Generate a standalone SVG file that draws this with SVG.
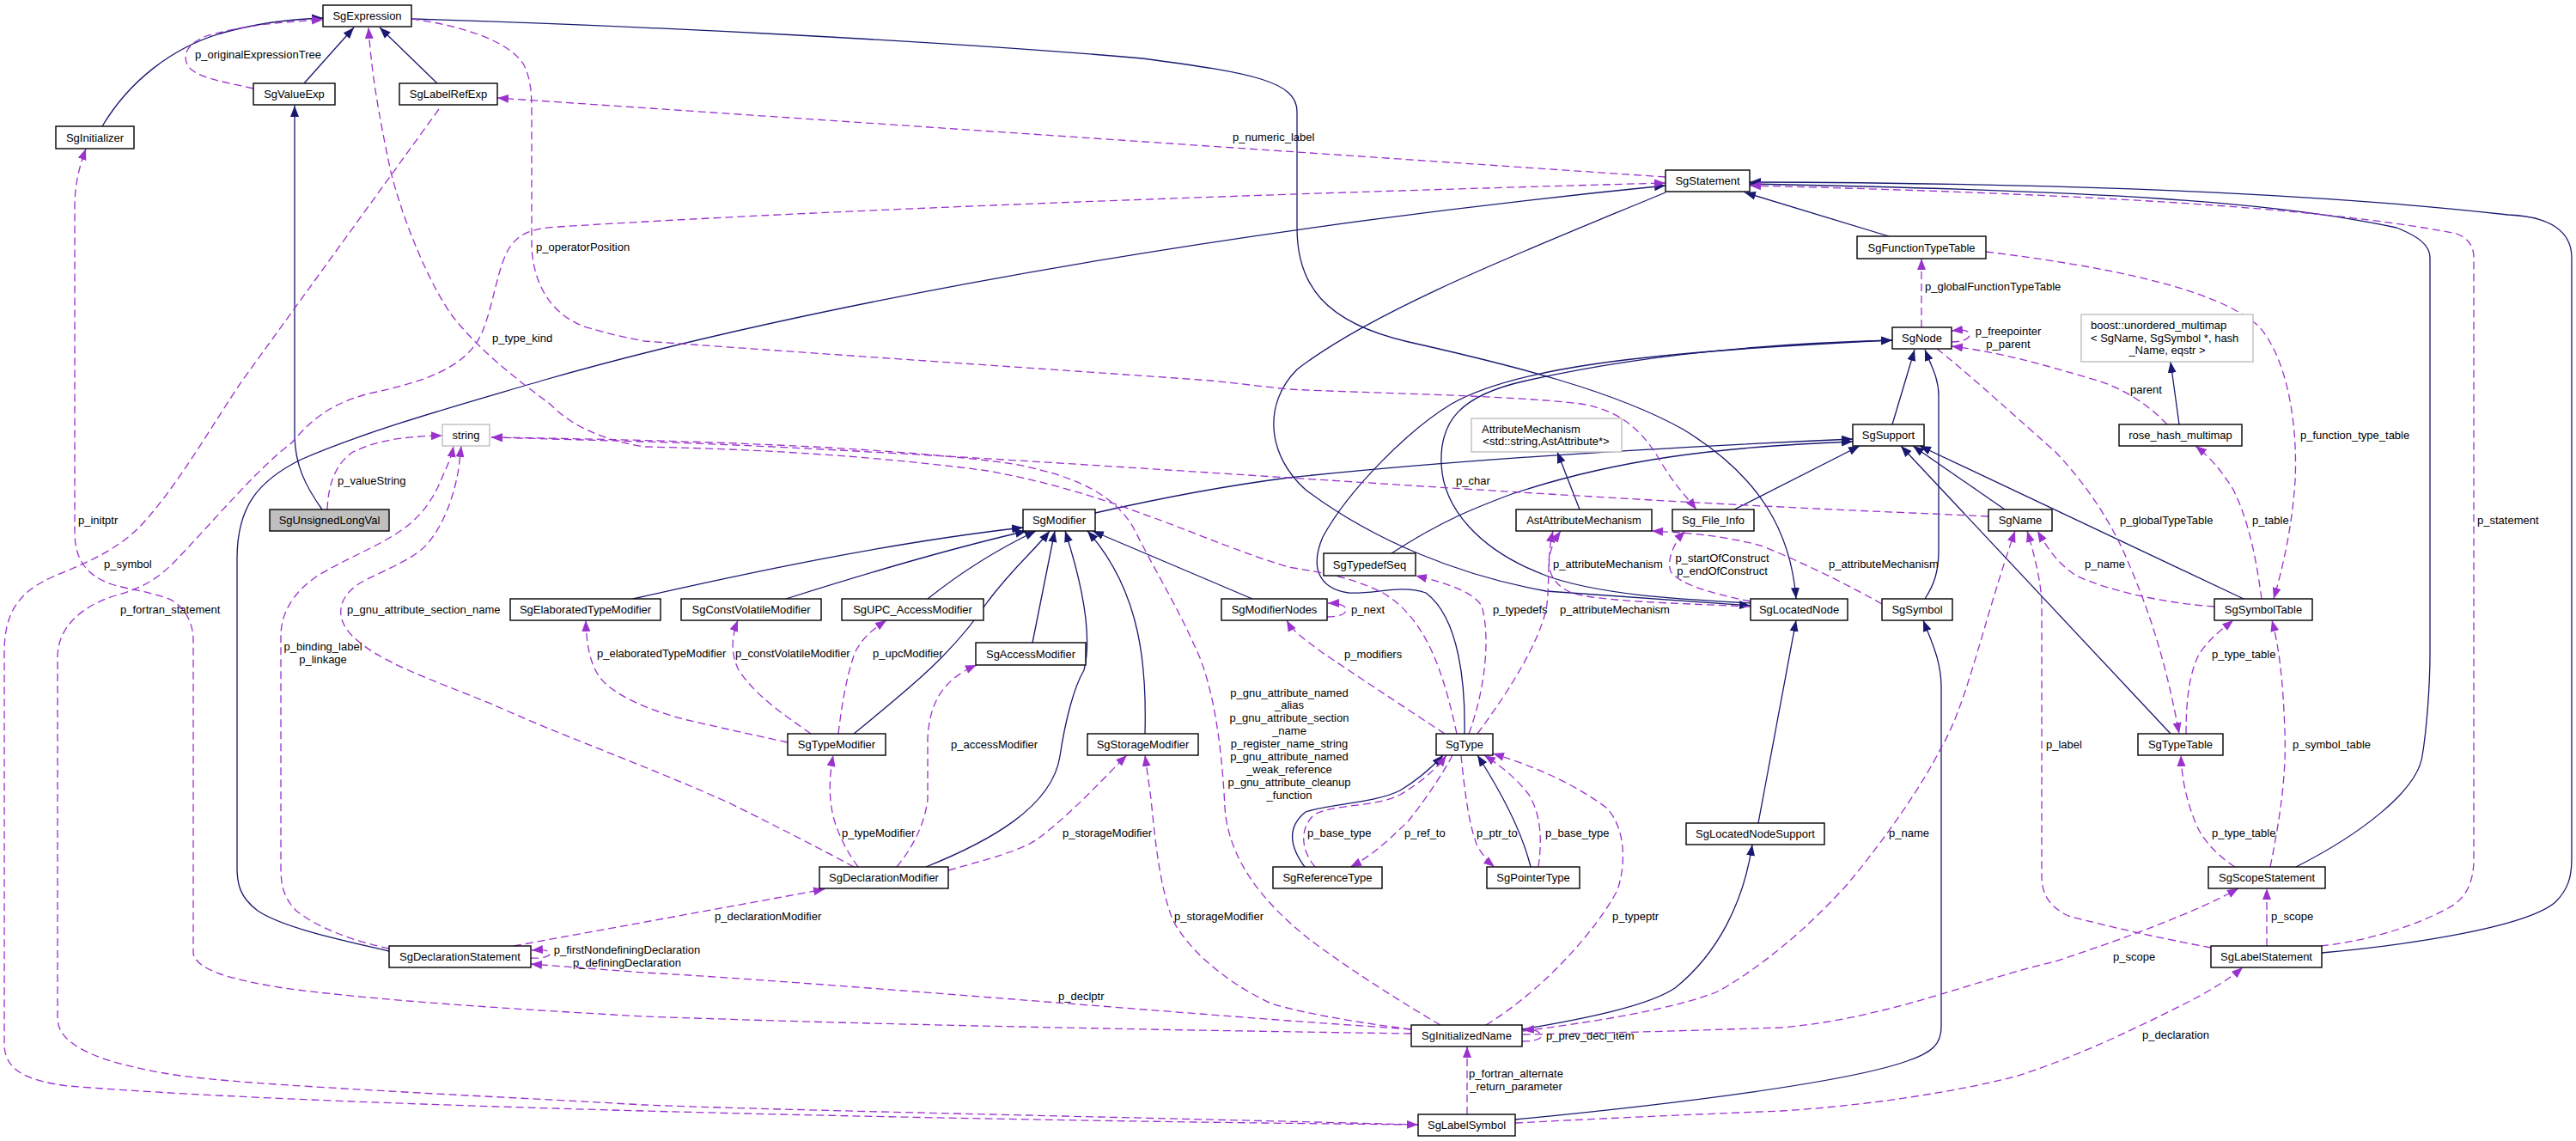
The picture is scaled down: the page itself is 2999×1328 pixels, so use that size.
<svg xmlns="http://www.w3.org/2000/svg" width="2999" height="1328" viewBox="0 0 2999 1328">
<style>
text{font-family:"Liberation Sans",Arial,Helvetica,sans-serif;font-size:13px;fill:#000}
.n rect{fill:#fff;stroke:#000;stroke-width:1.4}
.n text{text-anchor:middle}
.g rect{stroke:#bfbfbf}
.cur rect{fill:#bfbfbf}
.e{fill:none;stroke-width:1.3}
.i{stroke:#191970;marker-end:url(#ab)}
.u{stroke:#9a32cd;stroke-dasharray:9,5;marker-end:url(#ap)}
.c{text-anchor:middle}
</style>
<defs>
<marker id="ab" markerUnits="userSpaceOnUse" markerWidth="14" markerHeight="11" refX="13" refY="5.5" orient="auto"><path d="M0,0.5 L13,5.5 L0,10.5 z" fill="#191970" stroke="none"/></marker>
<marker id="ap" markerUnits="userSpaceOnUse" markerWidth="14" markerHeight="11" refX="13" refY="5.5" orient="auto"><path d="M0,0.5 L13,5.5 L0,10.5 z" fill="#9a32cd" stroke="none"/></marker>
</defs>
<rect width="2999" height="1328" fill="#fff"/>
<g id="edges">
<path class="e i" d="M354,97 L412,32"/>
<path class="e i" d="M509,97 L442,32"/>
<path class="e i" d="M119,147 C150,95 200,55 260,38 C300,27 340,22 376,21"/>
<path class="e i" d="M375,593 C355,565 343,540 343,505 L343,123"/>
<path class="e i" d="M479,22 C750,30 1100,48 1330,68 C1460,85 1510,95 1510,130 L1510,265 C1510,330 1540,375 1640,398 C1760,425 1880,455 1960,500 C2050,555 2085,620 2091,697"/>
<path class="e i" d="M1939,224 C1780,290 1600,360 1510,430 C1470,470 1475,530 1520,570 C1600,630 1700,670 1800,688 L2038,705"/>
<path class="e i" d="M453,1107 C400,1095 330,1080 300,1060 C280,1045 276,1030 276,1010 L276,650 C276,590 300,560 350,535 C430,500 540,470 631,443 C850,380 1300,280 1939,216"/>
<path class="e i" d="M2199,275 L2031,224"/>
<path class="e i" d="M2673,1009 C2750,970 2814,920 2820,880 C2825,850 2829,800 2829,760 L2829,300 C2829,285 2815,275 2790,265 C2650,235 2450,222 2037,214"/>
<path class="e i" d="M2703,1109 C2800,1100 2940,1080 2975,1050 C2990,1035 2994,1020 2994,1000 L2994,300 C2994,270 2970,252 2920,250 C2700,225 2400,213 2037,212"/>
<path class="e i" d="M1705,854 C1706,800 1700,720 1660,690 C1630,680 1600,692 1570,690 C1535,685 1525,660 1540,625 C1570,570 1640,500 1690,470 C1760,430 1900,410 2203,396"/>
<path class="e i" d="M2038,702 C1950,697 1860,692 1800,670 C1720,640 1680,590 1678,540 C1676,490 1700,460 1777,443 C1900,415 2050,400 2203,396"/>
<path class="e i" d="M2203,494 L2229,407"/>
<path class="e i" d="M2241,697 C2252,680 2257,665 2257,640 L2257,460 C2257,440 2248,425 2241,407"/>
<path class="e i" d="M1275,597 C1350,580 1430,565 1500,556 C1700,535 1950,520 2157,511"/>
<path class="e i" d="M1620,644 C1680,605 1720,590 1760,575 C1880,535 2000,520 2157,514"/>
<path class="e i" d="M2019,593 L2165,519"/>
<path class="e i" d="M2334,593 L2227,519"/>
<path class="e i" d="M2612,697 L2235,519"/>
<path class="e i" d="M2527,854 L2213,519"/>
<path class="e i" d="M1839,593 L1813,526"/>
<path class="e i" d="M2537,494 L2527,421"/>
<path class="e i" d="M2047,958 L2091,722"/>
<path class="e i" d="M1772,1198 C1850,1185 1920,1170 1950,1150 C2000,1110 2030,1050 2040,983"/>
<path class="e i" d="M1764,1303 C1950,1285 2150,1260 2220,1235 C2250,1225 2260,1215 2260,1195 L2260,800 C2260,770 2250,750 2239,722"/>
<path class="e i" d="M737,697 C900,660 1050,630 1191,614"/>
<path class="e i" d="M915,697 C1000,670 1100,640 1195,618"/>
<path class="e i" d="M1080,697 C1120,665 1160,640 1206,618"/>
<path class="e i" d="M994,854 C1060,800 1110,760 1150,700 C1180,660 1205,640 1222,618"/>
<path class="e i" d="M1202,748 L1228,618"/>
<path class="e i" d="M1078,1009 C1150,980 1225,940 1234,880 C1240,840 1250,800 1262,780 C1272,740 1260,680 1240,618"/>
<path class="e i" d="M1333,854 C1335,780 1330,690 1266,618"/>
<path class="e i" d="M1458,697 L1272,618"/>
<path class="e i" d="M1519,1009 C1505,990 1495,965 1520,945 C1550,935 1600,935 1630,920 C1655,905 1670,890 1680,879"/>
<path class="e i" d="M1782,1009 C1770,960 1740,910 1720,879"/>

<path class="e u" d="M295,103 C260,95 225,90 218,75 C212,62 220,50 240,42 C280,30 330,25 376,23"/>
<path class="e u" d="M1939,206 L579,114"/>
<path class="e u" d="M1651,1309 C1300,1300 900,1292 750,1286 C500,1272 260,1262 191,1249 C110,1235 67,1215 67,1185 L67,765 C67,730 95,705 135,693 C170,683 185,672 205,652 C250,605 300,545 340,515 C365,485 390,468 430,458 C490,445 540,430 560,390 C575,355 578,315 592,290 C605,270 620,266 650,264 C950,245 1450,226 1939,213"/>
<path class="e u" d="M511,127 L282,443 C250,490 210,560 170,605 C140,640 100,655 60,672 C20,690 5,715 5,760 L5,1215 C5,1245 30,1258 80,1264 C400,1290 1200,1305 1651,1309"/>
<path class="e u" d="M1643,1203 C1300,1198 1000,1192 750,1183 C550,1172 420,1162 330,1150 C270,1140 230,1130 225,1110 L225,745 C225,720 210,700 191,695 C170,688 150,686 130,680 C100,670 87,650 87,620 L87,240 C87,215 92,195 100,173"/>
<path class="e u" d="M381,593 C382,565 390,540 411,526 C440,512 470,508 515,507"/>
<path class="e u" d="M453,1104 C410,1095 370,1080 345,1060 C330,1045 327,1030 327,1010 L327,740 C327,715 340,690 370,670 C400,652 430,640 455,625 C490,605 505,580 515,555 C522,540 526,530 528,519"/>
<path class="e u" d="M994,1009 C950,985 900,960 850,935 C750,890 650,855 574,820 C500,790 440,770 410,740 C390,720 392,695 420,678 C450,662 485,650 500,630 C520,605 530,570 534,545 L537,519"/>
<path class="e u" d="M2315,601 L2250,598 C2000,588 1750,572 1500,556 C1250,540 950,520 750,514 L572,509"/>
<path class="e u" d="M1677,1193 C1620,1160 1560,1120 1524,1093 C1470,1050 1430,1000 1426,940 C1423,880 1415,800 1390,750 C1370,705 1345,665 1320,615 C1300,580 1260,555 1180,540 C1050,522 850,513 572,509"/>
<path class="e u" d="M1696,854 C1680,780 1660,720 1610,690 C1570,670 1530,665 1500,660 C1400,630 1300,575 1150,548 C1000,528 850,522 750,520 C690,510 660,490 640,470 C600,440 560,410 526,367 C500,330 470,260 455,200 C440,130 432,80 429,32"/>
<path class="e u" d="M479,22 C540,30 600,50 612,80 C618,95 619,110 619,130 L619,290 C622,330 640,365 680,380 C720,392 740,395 750,397 C1000,415 1300,435 1410,443 C1440,446 1470,450 1500,453 C1600,458 1760,460 1840,470 C1890,478 1915,505 1935,540 C1950,565 1965,580 1975,593"/>
<path class="e u" d="M598,1101 L960,1035"/>
<path class="e u" d="M618,1115 C632,1116 640,1113 640,1110 C640,1106 632,1105 619,1106"/>
<path class="e u" d="M1643,1198 L1500,1188 C1200,1165 900,1140 750,1132 L618,1122"/>
<path class="e u" d="M999,1009 C985,990 972,965 968,940 C965,920 966,900 970,879"/>
<path class="e u" d="M1044,1009 C1060,990 1077,960 1080,930 L1080,860 C1082,815 1100,790 1137,774"/>
<path class="e u" d="M1104,1013 C1150,1000 1190,990 1210,975 C1250,945 1290,900 1312,879"/>
<path class="e u" d="M1643,1198 C1580,1190 1520,1180 1480,1168 C1420,1140 1380,1100 1365,1070 C1350,1030 1345,980 1340,930 L1333,879"/>
<path class="e u" d="M917,864 C880,856 830,845 800,838 C760,828 730,815 710,800 C690,785 683,760 682,722"/>
<path class="e u" d="M944,854 C910,830 880,810 860,780 C850,760 852,740 859,722"/>
<path class="e u" d="M976,854 C980,820 985,790 995,760 C1005,740 1020,730 1032,722"/>
<path class="e u" d="M1545,718 C1560,718 1567,714 1567,710 C1567,705 1560,702 1546,702"/>
<path class="e u" d="M1682,854 C1630,820 1570,780 1540,760 C1520,745 1505,735 1498,722"/>
<path class="e u" d="M1710,854 C1730,800 1735,740 1725,705 C1715,690 1690,680 1648,670"/>
<path class="e u" d="M1720,854 C1760,800 1790,750 1800,710 C1805,680 1800,650 1808,618"/>
<path class="e u" d="M2038,706 C1950,702 1860,700 1830,690 C1800,678 1795,650 1817,618"/>
<path class="e u" d="M2191,703 C2150,680 2100,655 2050,635 C2000,622 1960,620 1923,618"/>
<path class="e u" d="M2038,700 C1990,690 1955,680 1945,665 C1940,650 1950,630 1962,618"/>
<path class="e u" d="M1691,879 C1680,900 1660,930 1640,955 C1610,985 1590,1000 1572,1009"/>
<path class="e u" d="M1701,879 C1705,920 1710,960 1720,985 C1728,998 1735,1005 1740,1009"/>
<path class="e u" d="M1531,1009 C1515,990 1512,965 1530,948 C1555,935 1600,940 1630,925 C1655,910 1672,895 1684,879"/>
<path class="e u" d="M1791,1009 C1795,980 1795,950 1780,925 C1765,905 1745,890 1728,879"/>
<path class="e u" d="M1730,1193 C1800,1150 1860,1080 1883,1036 C1895,1000 1890,960 1870,940 C1830,910 1780,890 1738,877"/>
<path class="e u" d="M1773,1200 C1850,1190 1950,1175 2002,1153 C2050,1125 2100,1085 2150,1030 C2200,970 2240,910 2260,870 C2290,820 2310,720 2346,618"/>
<path class="e u" d="M2574,1103 C2530,1095 2460,1080 2408,1066 C2385,1055 2377,1040 2377,1020 L2377,700 C2376,680 2370,650 2360,618"/>
<path class="e u" d="M2578,706 C2530,703 2460,690 2417,670 C2395,655 2385,640 2372,618"/>
<path class="e u" d="M2255,406 C2280,425 2330,470 2393,526 C2430,565 2460,610 2480,660 C2510,730 2525,790 2537,854"/>
<path class="e u" d="M2545,854 C2545,810 2550,780 2561,760 C2575,740 2590,730 2600,722"/>
<path class="e u" d="M2602,1009 C2580,995 2562,975 2555,955 C2545,930 2540,905 2539,879"/>
<path class="e u" d="M2643,1009 C2655,950 2662,900 2660,850 C2658,800 2655,760 2645,722"/>
<path class="e u" d="M2633,697 C2628,660 2620,610 2600,570 C2585,545 2570,530 2556,519"/>
<path class="e u" d="M2312,293 C2450,310 2580,335 2630,380 C2665,420 2675,500 2672,560 C2668,620 2655,670 2647,697"/>
<path class="e u" d="M2237,381 L2237,301"/>
<path class="e u" d="M2272,398 C2288,398 2296,392 2292,387 C2288,383 2282,384 2272,385"/>
<path class="e u" d="M2523,494 C2500,470 2470,450 2432,440 C2380,425 2330,410 2272,403"/>
<path class="e u" d="M2702,1101 C2760,1095 2820,1075 2857,1053 C2875,1040 2880,1020 2880,1000 L2880,300 C2880,285 2872,277 2860,272 C2700,240 2400,225 2037,216"/>
<path class="e u" d="M2639,1101 L2639,1034"/>
<path class="e u" d="M1773,1204 C1850,1203 1950,1200 2074,1196 C2200,1185 2300,1140 2393,1119 C2480,1090 2560,1060 2606,1034"/>
<path class="e u" d="M1764,1307 C1900,1300 2000,1296 2074,1293 C2200,1285 2300,1265 2346,1253 C2420,1230 2500,1190 2540,1170 C2570,1155 2595,1140 2611,1126"/>
<path class="e u" d="M1708,1297 L1708,1218"/>
<path class="e u" d="M1772,1212 C1790,1212 1796,1208 1794,1204 C1790,1199 1785,1198 1773,1199"/>

<text x="227" y="67.5">p_originalExpressionTree</text>
<text x="1435" y="163.5">p_numeric_label</text>
<text x="624" y="291.5">p_operatorPosition</text>
<text x="573" y="397.5">p_type_kind</text>
<text x="2241" y="337.5">p_globalFunctionTypeTable</text>
<text class="c" x="2338" y="389.5">p_freepointer</text>
<text class="c" x="2338" y="404.5">p_parent</text>
<text x="2480" y="457.5">parent</text>
<text x="2678" y="510.5">p_function_type_table</text>
<text x="393" y="563.5">p_valueString</text>
<text x="1695" y="563.5">p_char</text>
<text x="91" y="609.5">p_initptr</text>
<text x="2468" y="609.5">p_globalTypeTable</text>
<text x="2622" y="609.5">p_table</text>
<text x="2884" y="609.5">p_statement</text>
<text x="121" y="660.5">p_symbol</text>
<text x="1808" y="660.5">p_attributeMechanism</text>
<text class="c" x="2005" y="653.5">p_startOfConstruct</text>
<text class="c" x="2005" y="668.5">p_endOfConstruct</text>
<text x="2129" y="660.5">p_attributeMechanism</text>
<text x="2427" y="660.5">p_name</text>
<text x="140" y="713.5">p_fortran_statement</text>
<text x="404" y="713.5">p_gnu_attribute_section_name</text>
<text x="1573" y="713.5">p_next</text>
<text x="1738" y="713.5">p_typedefs</text>
<text x="1816" y="713.5">p_attributeMechanism</text>
<text class="c" x="376" y="756.5">p_binding_label</text>
<text class="c" x="376" y="771.5">p_linkage</text>
<text x="695" y="765">p_elaboratedTypeModifier</text>
<text x="856" y="764.5">p_constVolatileModifier</text>
<text x="1016" y="764.5">p_upcModifier</text>
<text x="1565" y="765.5">p_modifiers</text>
<text x="2575" y="765.5">p_type_table</text>
<text class="c" x="1501" y="810.5">p_gnu_attribute_named</text>
<text class="c" x="1501" y="825.4">_alias</text>
<text class="c" x="1501" y="840.3">p_gnu_attribute_section</text>
<text class="c" x="1501" y="855.2">_name</text>
<text class="c" x="1501" y="870.1">p_register_name_string</text>
<text class="c" x="1501" y="885">p_gnu_attribute_named</text>
<text class="c" x="1501" y="899.9">_weak_reference</text>
<text class="c" x="1501" y="914.8">p_gnu_attribute_cleanup</text>
<text class="c" x="1501" y="929.7">_function</text>
<text x="1107" y="870.5">p_accessModifier</text>
<text x="2382" y="870.5">p_label</text>
<text x="2669" y="870.5">p_symbol_table</text>
<text x="980" y="973.5">p_typeModifier</text>
<text x="1237" y="973.5">p_storageModifier</text>
<text x="1522" y="973.5">p_base_type</text>
<text x="1635" y="973.5">p_ref_to</text>
<text x="1719" y="973.5">p_ptr_to</text>
<text x="1799" y="973.5">p_base_type</text>
<text x="2199" y="973.5">p_name</text>
<text x="2575" y="973.5">p_type_table</text>
<text x="832" y="1070.5">p_declarationModifier</text>
<text x="1367" y="1070.5">p_storageModifier</text>
<text x="1877" y="1070.5">p_typeptr</text>
<text x="2644" y="1070.5">p_scope</text>
<text class="c" x="730" y="1109.5">p_firstNondefiningDeclaration</text>
<text class="c" x="730" y="1124.5">p_definingDeclaration</text>
<text x="2460" y="1117.5">p_scope</text>
<text x="1232" y="1163.5">p_declptr</text>
<text x="2494" y="1208.5">p_declaration</text>
<text x="1800" y="1209.5">p_prev_decl_item</text>
<text class="c" x="1765" y="1253.5">p_fortran_alternate</text>
<text class="c" x="1765" y="1268.5">_return_parameter</text>
</g>

<g id="SgExpression" class="n"><rect x="376" y="6" width="103" height="25"/><text x="427.5" y="23">SgExpression</text></g>
<g id="SgValueExp" class="n"><rect x="295" y="97" width="95" height="25"/><text x="342.5" y="114">SgValueExp</text></g>
<g id="SgLabelRefExp" class="n"><rect x="465" y="97" width="114" height="25"/><text x="522" y="114">SgLabelRefExp</text></g>
<g id="SgInitializer" class="n"><rect x="65" y="147" width="91" height="26"/><text x="110.5" y="164.5">SgInitializer</text></g>
<g id="SgStatement" class="n"><rect x="1939" y="198" width="98" height="25"/><text x="1988" y="215">SgStatement</text></g>
<g id="SgFunctionTypeTable" class="n"><rect x="2162" y="275" width="150" height="26"/><text x="2237" y="292.5">SgFunctionTypeTable</text></g>
<g id="SgNode" class="n"><rect x="2203" y="381" width="69" height="25"/><text x="2237.5" y="398">SgNode</text></g>
<g id="boost_unordered_multimap" class="n g"><rect x="2423" y="366" width="200" height="55"/><text x="2434" y="382.5" style="text-anchor:start">boost::unordered_multimap</text><text x="2434" y="397.5" style="text-anchor:start">&lt; SgName, SgSymbol *, hash</text><text x="2523" y="411.5">_Name, eqstr &gt;</text></g>
<g id="string" class="n g"><rect x="515" y="494" width="55" height="25"/><text x="542.5" y="511">string</text></g>
<g id="AttributeMechanism" class="n g"><rect x="1713" y="487" width="175" height="39"/><text x="1725" y="503.5" style="text-anchor:start">AttributeMechanism</text><text x="1800" y="517.5">&lt;std::string,AstAttribute*&gt;</text></g>
<g id="SgSupport" class="n"><rect x="2157" y="494" width="83" height="25"/><text x="2198.5" y="511">SgSupport</text></g>
<g id="rose_hash_multimap" class="n"><rect x="2467" y="494" width="143" height="25"/><text x="2538.5" y="511">rose_hash_multimap</text></g>
<g id="SgUnsignedLongVal" class="n cur"><rect x="314" y="593" width="139" height="25"/><text x="383.5" y="610">SgUnsignedLongVal</text></g>
<g id="SgModifier" class="n"><rect x="1191" y="593" width="84" height="25"/><text x="1233" y="610">SgModifier</text></g>
<g id="AstAttributeMechanism" class="n"><rect x="1765" y="593" width="158" height="25"/><text x="1844" y="610">AstAttributeMechanism</text></g>
<g id="Sg_File_Info" class="n"><rect x="1947" y="593" width="95" height="25"/><text x="1994.5" y="610">Sg_File_Info</text></g>
<g id="SgName" class="n"><rect x="2315" y="593" width="74" height="25"/><text x="2352" y="610">SgName</text></g>
<g id="SgTypedefSeq" class="n"><rect x="1541" y="644" width="107" height="26"/><text x="1594.5" y="661.5">SgTypedefSeq</text></g>
<g id="SgElaboratedTypeModifier" class="n"><rect x="594" y="697" width="175" height="25"/><text x="681.5" y="714">SgElaboratedTypeModifier</text></g>
<g id="SgConstVolatileModifier" class="n"><rect x="793" y="697" width="163" height="25"/><text x="874.5" y="714">SgConstVolatileModifier</text></g>
<g id="SgUPC_AccessModifier" class="n"><rect x="980" y="697" width="165" height="25"/><text x="1062.5" y="714">SgUPC_AccessModifier</text></g>
<g id="SgModifierNodes" class="n"><rect x="1422" y="697" width="123" height="25"/><text x="1483.5" y="714">SgModifierNodes</text></g>
<g id="SgLocatedNode" class="n"><rect x="2038" y="697" width="113" height="25"/><text x="2094.5" y="714">SgLocatedNode</text></g>
<g id="SgSymbol" class="n"><rect x="2191" y="697" width="82" height="25"/><text x="2232" y="714">SgSymbol</text></g>
<g id="SgSymbolTable" class="n"><rect x="2578" y="697" width="114" height="25"/><text x="2635" y="714">SgSymbolTable</text></g>
<g id="SgAccessModifier" class="n"><rect x="1136" y="748" width="128" height="26"/><text x="1200" y="765.5">SgAccessModifier</text></g>
<g id="SgTypeModifier" class="n"><rect x="917" y="854" width="114" height="25"/><text x="974" y="871">SgTypeModifier</text></g>
<g id="SgStorageModifier" class="n"><rect x="1266" y="854" width="129" height="25"/><text x="1330.5" y="871">SgStorageModifier</text></g>
<g id="SgType" class="n"><rect x="1672" y="854" width="66" height="25"/><text x="1705" y="871">SgType</text></g>
<g id="SgTypeTable" class="n"><rect x="2489" y="854" width="99" height="25"/><text x="2538.5" y="871">SgTypeTable</text></g>
<g id="SgLocatedNodeSupport" class="n"><rect x="1963" y="958" width="161" height="25"/><text x="2043.5" y="975">SgLocatedNodeSupport</text></g>
<g id="SgDeclarationModifier" class="n"><rect x="954" y="1009" width="150" height="25"/><text x="1029" y="1026">SgDeclarationModifier</text></g>
<g id="SgReferenceType" class="n"><rect x="1482" y="1009" width="127" height="25"/><text x="1545.5" y="1026">SgReferenceType</text></g>
<g id="SgPointerType" class="n"><rect x="1731" y="1009" width="108" height="25"/><text x="1785" y="1026">SgPointerType</text></g>
<g id="SgScopeStatement" class="n"><rect x="2571" y="1009" width="136" height="25"/><text x="2639" y="1026">SgScopeStatement</text></g>
<g id="SgDeclarationStatement" class="n"><rect x="453" y="1101" width="165" height="25"/><text x="535.5" y="1118">SgDeclarationStatement</text></g>
<g id="SgLabelStatement" class="n"><rect x="2574" y="1101" width="129" height="25"/><text x="2638.5" y="1118">SgLabelStatement</text></g>
<g id="SgInitializedName" class="n"><rect x="1643" y="1193" width="129" height="25"/><text x="1707.5" y="1210">SgInitializedName</text></g>
<g id="SgLabelSymbol" class="n"><rect x="1651" y="1297" width="113" height="25"/><text x="1707.5" y="1314">SgLabelSymbol</text></g>
</svg>
